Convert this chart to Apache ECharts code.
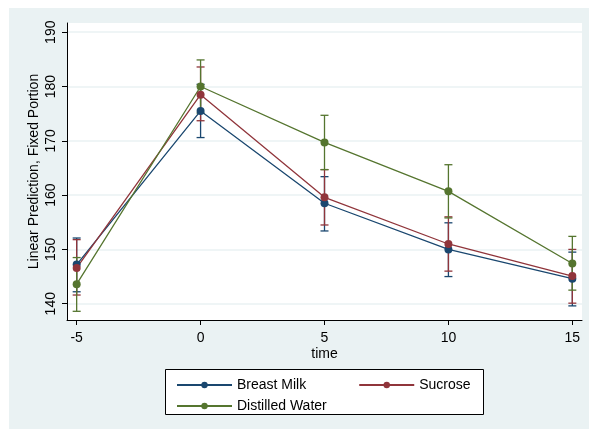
<!DOCTYPE html>
<html>
<head>
<meta charset="utf-8">
<script src="https://cdn.jsdelivr.net/npm/echarts@6/dist/echarts.min.js"></script>
<style>html,body{margin:0;padding:0;background:#fff;}#c{width:589px;height:429px;}</style>
</head>
<body>
<div id="c"></div>
<script>
var times = [-5, 0, 5, 10, 15];
var xTicks = [-5, 0, 5, 10, 15];
var yTicks = [140, 150, 160, 170, 180, 190];

var breastMilk   = [147.2, 175.5, 158.5, 150.0, 144.6];
var breastMilkLo = [142.2, 170.6, 153.4, 145.0, 139.6];
var breastMilkHi = [152.1, 180.4, 163.4, 154.9, 149.5];

var sucrose   = [146.6, 178.5, 159.6, 151.0, 145.1];
var sucroseLo = [141.6, 173.7, 154.5, 146.0, 140.1];
var sucroseHi = [151.8, 183.6, 164.7, 156.0, 150.0];

var water   = [143.6, 180.0, 169.7, 160.7, 147.4];
var waterLo = [138.6, 175.1, 164.7, 155.8, 142.5];
var waterHi = [148.5, 184.9, 174.7, 165.6, 152.4];

var FONT = 'Liberation Sans, Arial, sans-serif';
var cBlue = '#1a476f', cRed = '#90353b', cGreen = '#55752f';

function pts(vals) { return times.map(function (t, i) { return [t, vals[i]]; }); }
function ebData(lo, hi) { return times.map(function (t, i) { return [t, lo[i], hi[i]]; }); }
function ebSeries(name, lo, hi, color) {
  return {
    type: 'custom', name: name + ' CI', data: ebData(lo, hi), z: 2, silent: true,
    renderItem: function (params, api) {
      var top = api.coord([api.value(0), api.value(2)]);
      var bot = api.coord([api.value(0), api.value(1)]);
      var w = 4;
      var st = { stroke: color, lineWidth: 1.3 };
      return { type: 'group', children: [
        { type: 'line', shape: { x1: top[0], y1: top[1], x2: bot[0], y2: bot[1] }, style: st },
        { type: 'line', shape: { x1: top[0] - w, y1: top[1], x2: top[0] + w, y2: top[1] }, style: st },
        { type: 'line', shape: { x1: bot[0] - w, y1: bot[1], x2: bot[0] + w, y2: bot[1] }, style: st }
      ]};
    }
  };
}
function lineSeries(name, vals, color) {
  return {
    type: 'line', name: name, data: pts(vals), z: 3,
    symbol: 'circle', symbolSize: 8, showSymbol: true,
    lineStyle: { color: color, width: 1.3 }, itemStyle: { color: color },
    emphasis: { disabled: true }
  };
}

var chart = echarts.init(document.getElementById('c'), null, { renderer: 'canvas' });
chart.setOption({
  animation: false,
  backgroundColor: '#ffffff',
  graphic: [
    { type: 'rect', shape: { x: 9, y: 8, width: 580, height: 421 }, style: { fill: '#eaf2f3' }, z: -10 },
    { type: 'rect', shape: { x: 165.5, y: 369.5, width: 318, height: 45 }, style: { fill: '#ffffff', stroke: '#000000', lineWidth: 1 }, z: -5 }
  ],
  grid: { left: 67, top: 23, width: 515, height: 297, show: true, backgroundColor: '#ffffff', borderWidth: 0 },
  legend: [
    { data: ['Breast Milk', 'Sucrose'], left: 171, top: 373, itemWidth: 55, itemHeight: 8, itemGap: 52,
      textStyle: { fontFamily: FONT, fontSize: 14, color: '#000' }, selectedMode: false },
    { data: ['Distilled Water'], left: 171, top: 394, itemWidth: 55, itemHeight: 8,
      textStyle: { fontFamily: FONT, fontSize: 14, color: '#000' }, selectedMode: false }
  ],
  xAxis: {
    type: 'value', min: -5.39, max: 15.39,
    name: 'time', nameLocation: 'middle', nameGap: 27, nameMoveOverlap: false,
    nameTextStyle: { fontFamily: FONT, fontSize: 14, color: '#000' },
    axisLine: { show: true, onZero: false, lineStyle: { color: '#000', width: 1 } },
    axisTick: { show: true, length: 5, customValues: xTicks, lineStyle: { color: '#000' } },
    axisLabel: { customValues: xTicks, margin: 11, fontFamily: FONT, fontSize: 14, color: '#000' },
    splitLine: { show: false }
  },
  yAxis: {
    type: 'value', min: 137, max: 191.7,
    name: 'Linear Prediction, Fixed Portion', nameLocation: 'middle', nameGap: 26, nameMoveOverlap: false,
    nameTextStyle: { fontFamily: FONT, fontSize: 14, color: '#000' },
    axisLine: { show: true, onZero: false, lineStyle: { color: '#000', width: 1 } },
    axisTick: { show: true, length: 5, customValues: yTicks, lineStyle: { color: '#000' } },
    axisLabel: { customValues: yTicks, rotate: 90, margin: 9, fontFamily: FONT, fontSize: 14, color: '#000' },
    splitLine: { show: true, lineStyle: { color: '#eaf2f3', width: 1.5 } }
  },
  series: [
    ebSeries('Breast Milk', breastMilkLo, breastMilkHi, cBlue),
    ebSeries('Sucrose', sucroseLo, sucroseHi, cRed),
    ebSeries('Distilled Water', waterLo, waterHi, cGreen),
    lineSeries('Breast Milk', breastMilk, cBlue),
    lineSeries('Sucrose', sucrose, cRed),
    lineSeries('Distilled Water', water, cGreen)
  ]
});
</script>
</body>
</html>
